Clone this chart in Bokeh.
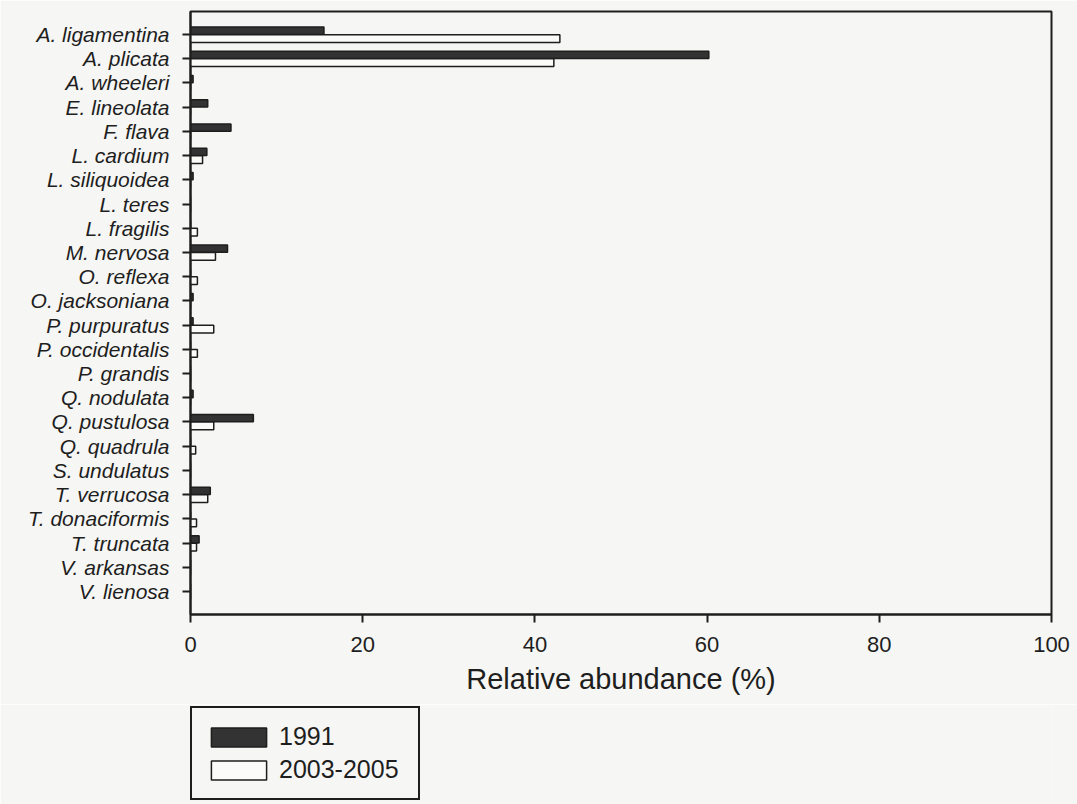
from bokeh.plotting import figure
from bokeh.models import FactorRange, Range1d, Legend, LegendItem, FixedTicker
from bokeh.transform import dodge
from bokeh.models import ColumnDataSource
from bokeh.layouts import column
from bokeh.embed import file_html
from bokeh.resources import INLINE

species = ["A. ligamentina", "A. plicata", "A. wheeleri", "E. lineolata", "F. flava",
           "L. cardium", "L. siliquoidea", "L. teres", "L. fragilis", "M. nervosa",
           "O. reflexa", "O. jacksoniana", "P. purpuratus", "P. occidentalis", "P. grandis",
           "Q. nodulata", "Q. pustulosa", "Q. quadrula", "S. undulatus", "T. verrucosa",
           "T. donaciformis", "T. truncata", "V. arkansas", "V. lienosa"]
abund_1991 = [15.5, 60.2, 0.3, 2.0, 4.7, 1.9, 0.3, 0.0, 0.0, 4.3,
              0.0, 0.3, 0.3, 0.0, 0.0, 0.3, 7.3, 0.0, 0.0, 2.3,
              0.0, 1.0, 0.0, 0.0]
abund_2003_2005 = [42.9, 42.2, 0.0, 0.0, 0.0, 1.4, 0.0, 0.0, 0.8, 2.9,
                   0.8, 0.0, 2.7, 0.8, 0.0, 0.0, 2.7, 0.6, 0.0, 2.0,
                   0.7, 0.7, 0.0, 0.0]
x_ticks = [0, 20, 40, 60, 80, 100]
series_labels = ["1991", "2003-2005"]
x_title = "Relative abundance (%)"

src = ColumnDataSource(dict(sp=species, a=abund_1991, b=abund_2003_2005))

bg = "#f6f6f4"
ink = "#1e1e1e"
dark = "#333333"
light = "#fbfbfa"
font = "Liberation Sans"

p = figure(frame_width=861, frame_height=603, output_backend="svg", toolbar_location=None,
           y_range=FactorRange(factors=list(reversed(species)), range_padding=0.45,
                               range_padding_units="absolute"),
           x_range=Range1d(0, 100),
           min_border_left=190, min_border_right=26, min_border_top=11, min_border_bottom=90,
           background_fill_color=bg, border_fill_color=bg)
p.grid.visible = False
p.outline_line_color = ink
p.outline_line_width = 2

p.hbar(y=dodge("sp", 0.155, range=p.y_range), right="a", left=0, height=0.30,
       source=src, fill_color=dark, line_color=ink, line_width=1.5)
p.hbar(y=dodge("sp", -0.165, range=p.y_range), right="b", left=0, height=0.32,
       source=src, fill_color=light, line_color=ink, line_width=1.5)

# x axis
xa = p.xaxis[0]
xa.ticker = FixedTicker(ticks=x_ticks)
xa.minor_tick_line_color = None
xa.major_tick_out = 8
xa.major_tick_in = 0
xa.major_tick_line_width = 2
xa.major_tick_line_color = ink
xa.axis_line_width = 2
xa.axis_line_color = ink
xa.major_label_text_font = font
xa.major_label_text_font_size = "22px"
xa.major_label_text_color = ink
xa.major_label_standoff = 14
xa.axis_label = x_title
xa.axis_label_text_font = font
xa.axis_label_text_font_style = "normal"
xa.axis_label_text_font_size = "29px"
xa.axis_label_text_color = ink
xa.axis_label_standoff = 8

ya = p.yaxis[0]
ya.major_tick_out = 8
ya.major_tick_in = 0
ya.major_tick_line_width = 2
ya.major_tick_line_color = ink
ya.axis_line_width = 2
ya.axis_line_color = ink
ya.minor_tick_line_color = None
ya.major_label_text_font = font
ya.major_label_text_font_style = "italic"
ya.major_label_text_font_size = "21px"
ya.major_label_text_color = ink
ya.major_label_standoff = 13

# legend panel below the chart (proxy glyphs sit hidden beneath the opaque legend box)
p2 = figure(width=1077, height=100, output_backend="svg", toolbar_location=None,
            x_range=Range1d(0, 1), y_range=Range1d(0, 1),
            min_border_left=183, min_border_right=0, min_border_top=2, min_border_bottom=0,
            background_fill_color=bg, border_fill_color=bg)
p2.axis.visible = False
p2.grid.visible = False
p2.outline_line_color = None
l1 = p2.hbar(y=[0.5], left=[0.05], right=[0.1], height=0.1, fill_color=dark, line_color=ink, line_width=1.5)
l2 = p2.hbar(y=[0.5], left=[0.05], right=[0.1], height=0.1, fill_color=light, line_color=ink, line_width=1.5)

legend = Legend(items=[LegendItem(label=series_labels[0], renderers=[l1]),
                       LegendItem(label=series_labels[1], renderers=[l2])],
                location="top_left", orientation="vertical",
                glyph_width=69, glyph_height=24, label_height=33, label_width=127,
                label_text_font=font, label_text_font_size="25px", label_text_color=ink,
                spacing=0, padding=12, label_standoff=6, margin=0,
                border_line_color=ink, border_line_width=2, border_line_alpha=1.0,
                background_fill_color=bg, background_fill_alpha=1.0)
p2.add_layout(legend, "center")

layout = column(p, p2, spacing=0)
open("out.html", "w").write(file_html(layout, INLINE))
